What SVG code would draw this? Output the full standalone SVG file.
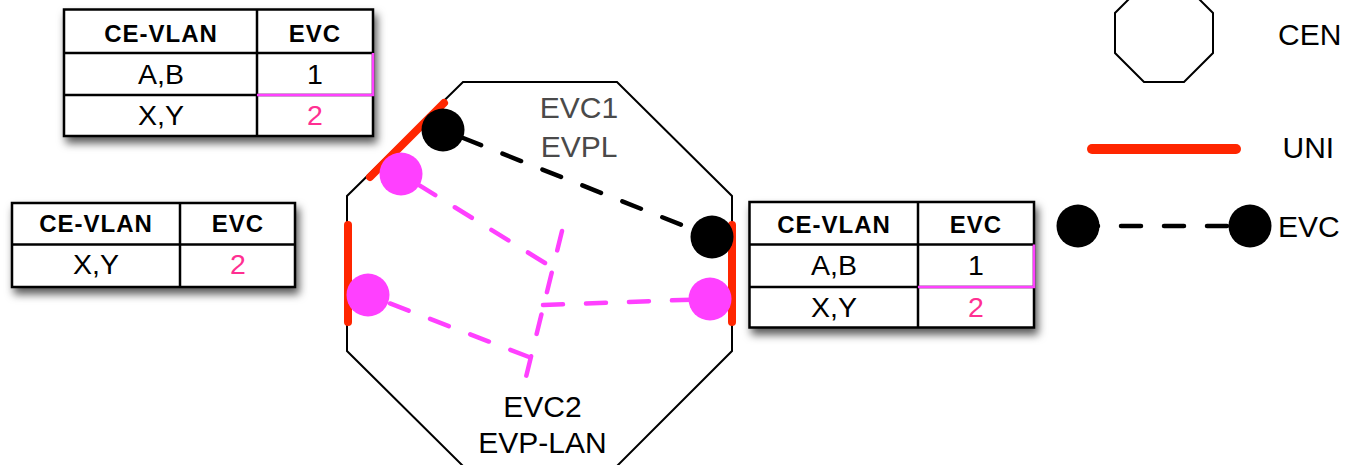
<svg xmlns="http://www.w3.org/2000/svg" width="1347" height="465" viewBox="0 0 1347 465">
<defs>
<filter id="shadow" x="-10%" y="-20%" width="130%" height="150%">
<feDropShadow dx="3" dy="6" stdDeviation="4.5" flood-color="#000" flood-opacity="0.65"/>
</filter>
</defs>
<style>
.tbl{fill:#fff;stroke:#000;stroke-width:2.5}
.grid{stroke:#000;stroke-width:2.5;fill:none}
.hl{stroke:#FF40FF;stroke-width:2.5;fill:none}
.hd{font-family:"Liberation Sans",Arial,sans-serif;font-weight:bold;font-size:24px;text-anchor:middle;fill:#000;letter-spacing:1px}
.cell{font-family:"Liberation Sans",Arial,sans-serif;font-size:28.5px;text-anchor:middle;fill:#000}
.pk{fill:#FF2F92}
.lbl{font-family:"Liberation Sans",Arial,sans-serif;font-size:30px;fill:#000}
.gry{fill:#4a4a4a}
.oct{fill:#fff;stroke:#000;stroke-width:2}
.uni{stroke:#FF2600;stroke-width:8;stroke-linecap:round;fill:none}
.evc1{stroke:#000;stroke-width:4.5;stroke-dasharray:20 23;stroke-linecap:round;fill:none}
.evc2{stroke:#FF40FF;stroke-width:4.5;stroke-dasharray:20 23;stroke-linecap:round;fill:none}
.dotk{fill:#000}
.dotp{fill:#FF40FF}
</style>

<g id="cen">
<polygon class="oct" points="463,82 617,82 732,196 732,351 617,466 463,466 347,351 347,196"/>
</g>

<g id="unis">
<line class="uni" x1="370" y1="177" x2="444" y2="103"/>
<line class="uni" x1="348" y1="225" x2="348" y2="322"/>
<line class="uni" x1="732" y1="225" x2="732" y2="322"/>
</g>

<g id="connectors">
<line class="evc1" x1="443" y1="130" x2="712" y2="237" stroke-dashoffset="22"/>
<line class="evc2" x1="545" y1="263" x2="401" y2="174"/>
<line class="evc2" x1="529" y1="357" x2="368" y2="295"/>
<line class="evc2" x1="543" y1="305" x2="710" y2="299"/>
<line class="evc2" x1="562" y1="231" x2="526" y2="377" stroke-dasharray="20 22"/>
</g>

<g id="endpoints">
<circle class="dotk" cx="443" cy="130" r="21.5"/>
<circle class="dotk" cx="712" cy="237" r="21.5"/>
<circle class="dotp" cx="401" cy="174" r="21.5"/>
<circle class="dotp" cx="368" cy="295" r="21.5"/>
<circle class="dotp" cx="710" cy="299" r="21.5"/>
</g>

<g id="labels">
<text class="lbl gry" x="579" y="118" text-anchor="middle">EVC1</text>
<text class="lbl gry" x="579" y="157" text-anchor="middle">EVPL</text>
<text class="lbl" x="542.5" y="417" text-anchor="middle">EVC2</text>
<text class="lbl" x="542.5" y="453" text-anchor="middle">EVP-LAN</text>
</g>

<g id="table1">
<rect class="tbl" x="64" y="9.5" width="309" height="126.5" filter="url(#shadow)"/>
<path class="grid" d="M257 9.5V136M64 53H373M64 95H373"/>
<path class="hl" d="M257 95H373V53"/>
<text class="hd" x="161" y="42">CE-VLAN</text>
<text class="hd" x="315" y="42">EVC</text>
<text class="cell" x="161" y="84">A,B</text>
<text class="cell" x="315" y="84">1</text>
<text class="cell" x="161" y="125">X,Y</text>
<text class="cell pk" x="315" y="125">2</text>
</g>

<g id="table2">
<rect class="tbl" x="12" y="203" width="283" height="84" filter="url(#shadow)"/>
<path class="grid" d="M180 203V287M12 244.5H295"/>
<text class="hd" x="96" y="232">CE-VLAN</text>
<text class="hd" x="238" y="232">EVC</text>
<text class="cell" x="96" y="274">X,Y</text>
<text class="cell pk" x="238" y="274">2</text>
</g>

<g id="table3">
<rect class="tbl" x="749.5" y="202" width="284.5" height="125.5" filter="url(#shadow)"/>
<path class="grid" d="M918 202V327.5M749.5 244.5H1034M749.5 287H1034"/>
<path class="hl" d="M918 287H1034V244.5"/>
<text class="hd" x="834" y="233">CE-VLAN</text>
<text class="hd" x="976" y="233">EVC</text>
<text class="cell" x="834" y="275">A,B</text>
<text class="cell" x="976" y="275">1</text>
<text class="cell" x="834" y="317">X,Y</text>
<text class="cell pk" x="976" y="317">2</text>
</g>

<g id="legend-cen">
<polygon class="oct" points="1144,-16 1184,-16 1213,13 1213,53 1184,82 1144,82 1115,53 1115,13"/>
<text class="lbl" x="1278" y="45">CEN</text>
</g>
<g id="legend-uni">
<line class="uni" x1="1092" y1="149" x2="1236" y2="149" style="stroke-width:10"/>
<text class="lbl" x="1282.5" y="158">UNI</text>
</g>
<g id="legend-evc">
<line class="evc1" x1="1078" y1="226" x2="1250" y2="226"/>
<circle class="dotk" cx="1078" cy="226" r="21.5"/>
<circle class="dotk" cx="1250" cy="226" r="21.5"/>
<text class="lbl" x="1278" y="237">EVC</text>
</g>
</svg>
